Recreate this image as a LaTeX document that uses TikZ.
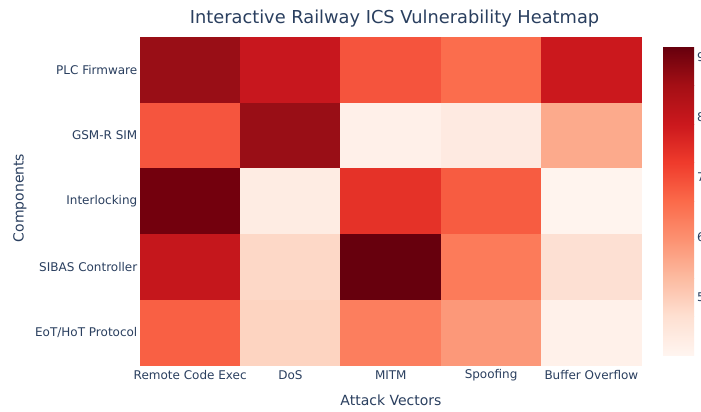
\documentclass[tikz,border=0pt]{standalone}
\usepackage{fontspec}
\setmainfont{DejaVu Sans}
\definecolor{txt}{HTML}{2A3F5F}
\definecolor{r1c1}{HTML}{990E16}\definecolor{r1c2}{HTML}{C8171E}\definecolor{r1c3}{HTML}{F5543D}\definecolor{r1c4}{HTML}{FB6D4D}\definecolor{r1c5}{HTML}{CB181D}
\definecolor{r2c1}{HTML}{F5553E}\definecolor{r2c2}{HTML}{990E16}\definecolor{r2c3}{HTML}{FFF0E9}\definecolor{r2c4}{HTML}{FEEAE1}\definecolor{r2c5}{HTML}{FCAA8C}
\definecolor{r3c1}{HTML}{73000D}\definecolor{r3c2}{HTML}{FEECE3}\definecolor{r3c3}{HTML}{E53228}\definecolor{r3c4}{HTML}{F75C41}\definecolor{r3c5}{HTML}{FFF4EE}
\definecolor{r4c1}{HTML}{C5171C}\definecolor{r4c2}{HTML}{FDD8C7}\definecolor{r4c3}{HTML}{67000D}\definecolor{r4c4}{HTML}{FC7B5A}\definecolor{r4c5}{HTML}{FDE0D3}
\definecolor{r5c1}{HTML}{F96044}\definecolor{r5c2}{HTML}{FDD4C1}\definecolor{r5c3}{HTML}{FC7E5E}\definecolor{r5c4}{HTML}{FC9879}\definecolor{r5c5}{HTML}{FFF1EA}
\definecolor{s0}{RGB}{255,245,240}\definecolor{s1}{RGB}{254,224,210}\definecolor{s2}{RGB}{252,187,161}
\definecolor{s3}{RGB}{252,146,114}\definecolor{s4}{RGB}{251,106,74}\definecolor{s5}{RGB}{239,59,44}
\definecolor{s6}{RGB}{203,24,29}\definecolor{s7}{RGB}{165,15,21}\definecolor{s8}{RGB}{103,0,13}
\begin{document}
\begin{tikzpicture}[x=1pt,y=-1pt,
  cell/.style={minimum width=100.6pt,minimum height=66pt,inner sep=0pt,outer sep=0pt,draw=none},
  ticklab/.style={text=txt,font=\fontsize{12}{14}\selectfont,inner sep=0pt},
  axtitle/.style={text=txt,font=\fontsize{14}{16}\selectfont,inner sep=0pt}]
\useasboundingbox[fill=white] (0,0) rectangle (701,412);
% heatmap cells
\foreach \r/\yc in {1/69.87,2/135.61,3/201.35,4/267.09,5/332.83}{
  \foreach \c/\xc in {1/190.15,2/290.45,3/390.75,4/491.05,5/591.35}{
    \node[cell,fill=r\r c\c] (cell\r\c) at (\xc,\yc) {};
  }
}
% title
\node[text=txt,font=\fontsize{17.8}{20}\selectfont,inner sep=0pt] (title) at (394.5,19) {Interactive Railway ICS Vulnerability Heatmap};
% y tick labels
\node[ticklab,anchor=east] (y1) at (137.5,70) {PLC Firmware};
\node[ticklab,anchor=east] (y2) at (137.5,135.6) {GSM-R SIM};
\node[ticklab,anchor=east] (y3) at (137.5,201.4) {Interlocking};
\node[ticklab,anchor=east] (y4) at (137.5,267.1) {SIBAS Controller};
\node[ticklab,anchor=east] (y5) at (137.5,332.8) {EoT/HoT Protocol};
% x tick labels
\node[ticklab] (x1) at (190.2,375) {Remote Code Exec};
\node[ticklab] (x2) at (290.5,375) {DoS};
\node[ticklab] (x3) at (390.8,375) {MITM};
\node[ticklab] (x4) at (491.1,375) {Spoofing};
\node[ticklab] (x5) at (591.4,375) {Buffer Overflow};
% axis titles
\node[axtitle] (xt) at (391,400) {Attack Vectors};
\node[axtitle,rotate=90] (yt) at (20,198) {Components};
% colorbar
\foreach \i/\a/\b in {0/s0/s1,1/s1/s2,2/s2/s3,3/s3/s4,4/s4/s5,5/s5/s6,6/s6/s7,7/s7/s8}{
  \shade[bottom color=\a,top color=\b] (663,{355-38.5*\i}) rectangle (694,{355-38.5*(\i+1)+0.3});
}
\node[draw=none,minimum width=31pt,minimum height=308pt,inner sep=0pt] (cbar) at (678.5,201) {};
\foreach \v/\yy in {9/57,8/117,7/177,6/237,5/297}{
  \node[ticklab,anchor=west] (cb\v) at (697,\yy) {\v};
}
\end{tikzpicture}
\end{document}
